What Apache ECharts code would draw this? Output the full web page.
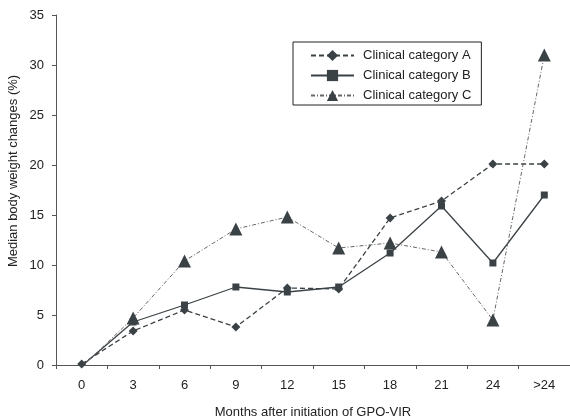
<!DOCTYPE html>
<html>
<head>
<meta charset="utf-8">
<script src="https://cdn.jsdelivr.net/npm/echarts@6/dist/echarts.min.js"></script>
<style>
  html, body { margin: 0; padding: 0; background: #fff; }
  #chart { width: 570px; height: 420px; }
</style>
</head>
<body>
<div id="chart"></div>
<script>
// months after initiation
const months = ["0", "3", "6", "9", "12", "15", "18", "21", "24", ">24"];
const categoryA = [0.1, 3.4, 5.5, 3.8, 7.7, 7.6, 14.7, 16.4, 20.1, 20.1];
const categoryB = [-0.1, 4.3, 6.0, 7.8, 7.3, 7.8, 11.2, 15.9, 10.2, 17.0];
const categoryC = [-0.2, 4.7, 10.4, 13.6, 14.8, 11.7, 12.2, 11.3, 4.5, 31.0];

const ink = "#3b4246";
const font = "Liberation Sans, Arial, sans-serif";

const chart = echarts.init(document.getElementById("chart"));

chart.setOption({
  animation: false,
  textStyle: { fontFamily: font },
  grid: { left: 56, right: 0, top: 15, bottom: 55, outerBoundsMode: "none", containLabel: false },
  legend: {
    orient: "vertical",
    left: 293,
    top: 42,
    padding: [7, 10, 3, 17],
    itemGap: 7,
    itemWidth: 43,
    itemHeight: 14,
    borderColor: "#222",
    borderWidth: 1,
    textStyle: { color: "#222", fontSize: 13, fontFamily: font, padding: [0, 0, 0, 4] },
    data: ["Clinical category A", "Clinical category B", "Clinical category C"]
  },
  graphic: [{
    type: "text",
    x: 13,
    y: 171,
    rotation: Math.PI / 2,
    style: {
      text: "Median body weight changes (%)",
      fill: "#222",
      font: "13px " + font,
      align: "center",
      verticalAlign: "middle"
    }
  }],
  xAxis: {
    type: "category",
    data: months,
    boundaryGap: true,
    name: "Months after initiation of GPO-VIR",
    nameLocation: "middle",
    nameGap: 41,
    nameTextStyle: { color: "#222", fontSize: 13 },
    axisLine: { lineStyle: { color: "#555" } },
    axisTick: { show: true, length: 4, lineStyle: { color: "#555" } },
    axisLabel: { color: "#222", fontSize: 13, margin: 14 }
  },
  yAxis: {
    type: "value",
    min: 0,
    max: 35,
    interval: 5,
    splitLine: { show: false },
    axisLine: { show: true, lineStyle: { color: "#555" } },
    axisTick: { show: true, length: 4, lineStyle: { color: "#555" } },
    axisLabel: { color: "#222", fontSize: 13, margin: 12 }
  },
  series: [
    {
      name: "Clinical category A",
      type: "line",
      data: categoryA,
      symbol: "diamond",
      symbolSize: 9,
      itemStyle: { color: ink },
      lineStyle: { color: ink, width: 1.3, type: [5, 3] }
    },
    {
      name: "Clinical category B",
      type: "line",
      data: categoryB,
      symbol: "rect",
      symbolSize: 7,
      itemStyle: { color: ink },
      lineStyle: { color: ink, width: 1.3, type: "solid" }
    },
    {
      name: "Clinical category C",
      type: "line",
      data: categoryC,
      symbol: "triangle",
      symbolSize: 13,
      itemStyle: { color: ink },
      lineStyle: { color: "#666", width: 1, type: [4, 2, 1, 2] }
    }
  ]
});
</script>
</body>
</html>
